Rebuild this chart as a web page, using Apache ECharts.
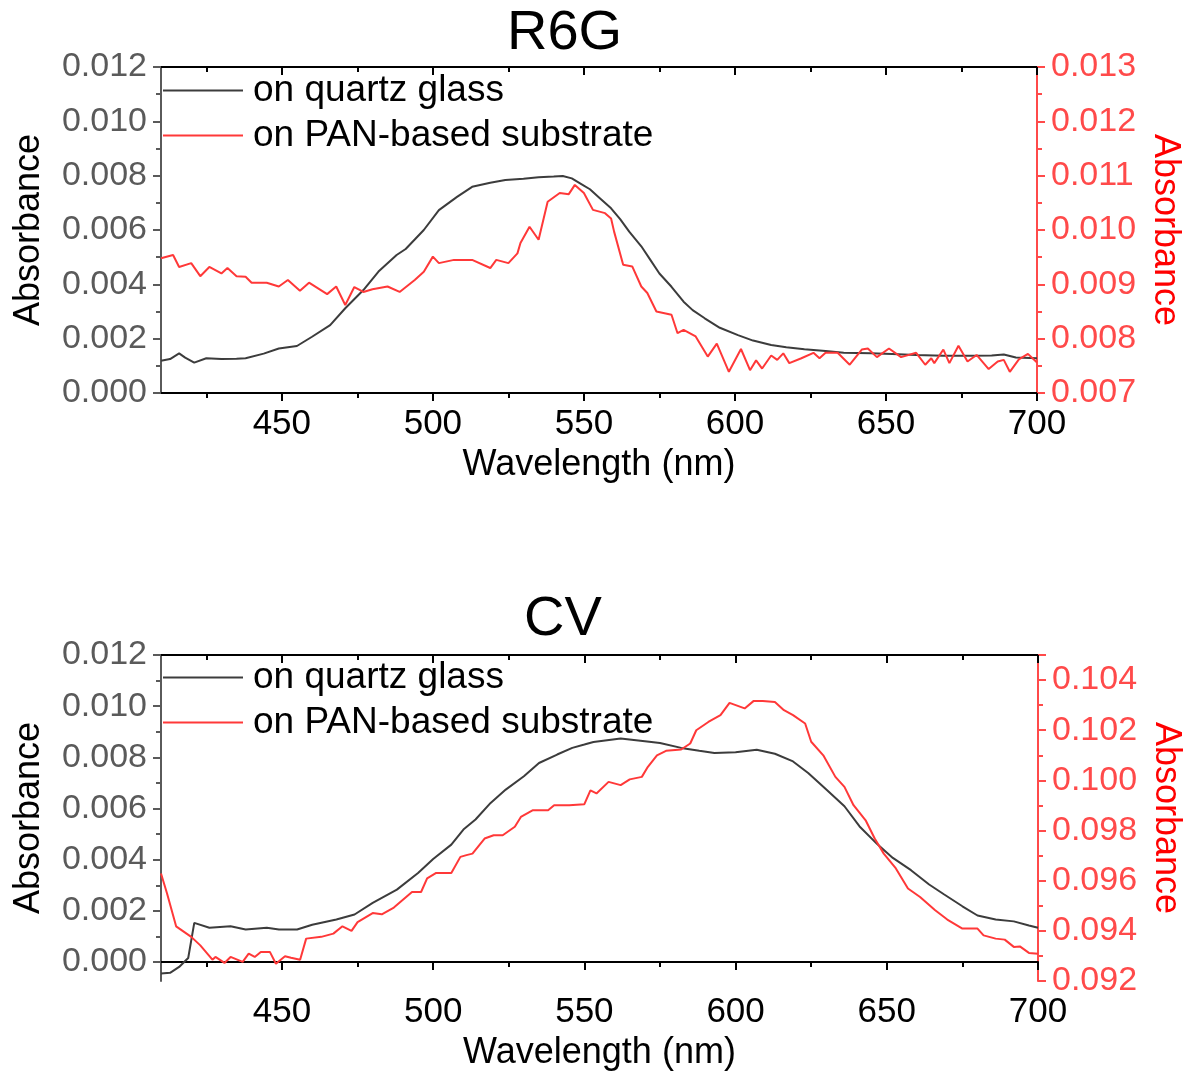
<!DOCTYPE html>
<html>
<head>
<meta charset="utf-8">
<script src="https://cdn.jsdelivr.net/npm/echarts@6/dist/echarts.min.js"></script>
<style>
  html, body { margin: 0; padding: 0; background: #fff; }
  #main { width: 1183px; height: 1072px; }
</style>
</head>
<body>
<div id="main"></div>
<script>
// tick positions
var xMajorTicks = [450, 500, 550, 600, 650, 700];
var xMinorTicks = [425, 475, 525, 575, 625, 675];
var yLeftMajor = [0, 0.002, 0.004, 0.006, 0.008, 0.010, 0.012];
var yLeftMinor = [0.001, 0.003, 0.005, 0.007, 0.009, 0.011];

// R6G, on quartz glass (left axis)
var r6gQuartzX = [410, 413, 416, 418, 421, 425, 430, 435, 438, 444, 449, 455, 460, 466, 471, 477, 482, 488, 491, 494, 497, 502, 508, 513, 519, 524, 530, 535, 540, 543, 546, 549, 552, 555, 559, 562, 565, 569, 572, 575, 579, 583, 586, 590, 595, 601, 606, 612, 617, 623, 630, 636, 645, 652, 660, 669, 678, 685, 689, 693, 700];
var r6gQuartzY = [0.00119, 0.00125, 0.00146, 0.00130, 0.00112, 0.00128, 0.00125, 0.00126, 0.00128, 0.00145, 0.00164, 0.00173, 0.00207, 0.00250, 0.00312, 0.00379, 0.00447, 0.00508, 0.00530, 0.00565, 0.00600, 0.00673, 0.00722, 0.00759, 0.00774, 0.00784, 0.00789, 0.00794, 0.00797, 0.00799, 0.00790, 0.00770, 0.00750, 0.00720, 0.00680, 0.00640, 0.00594, 0.00540, 0.00490, 0.00440, 0.00391, 0.00336, 0.00305, 0.00275, 0.00240, 0.00213, 0.00193, 0.00177, 0.00168, 0.00161, 0.00155, 0.00148, 0.00146, 0.00144, 0.00140, 0.00137, 0.00137, 0.00138, 0.00142, 0.00131, 0.00128];

// R6G, on PAN-based substrate (right axis)
var r6gPanX = [410, 414, 416, 420, 423, 426, 430, 432, 435, 438, 440, 445, 449, 452, 456, 459, 465, 468, 471, 474, 477, 480, 485, 489, 494, 497, 500, 502, 507, 513, 519, 521, 525, 528, 529, 532, 535, 538, 542, 545, 547, 550, 553, 557, 559, 560, 563, 566, 569, 571, 574, 579, 581, 583, 587, 591, 594, 598, 602, 605, 607, 609, 612, 614, 616, 618, 622, 626, 628, 630, 634, 638, 642, 644, 647, 651, 655, 660, 663, 665, 666, 669, 671, 674, 677, 680, 684, 687, 689, 691, 694, 697, 700];
var r6gPanY = [0.00948, 0.00954, 0.00932, 0.00939, 0.00915, 0.00932, 0.00920, 0.00930, 0.00915, 0.00914, 0.00903, 0.00903, 0.00896, 0.00908, 0.00888, 0.00903, 0.00882, 0.00896, 0.00862, 0.00895, 0.00886, 0.00891, 0.00896, 0.00886, 0.00908, 0.00923, 0.00951, 0.00939, 0.00945, 0.00945, 0.00930, 0.00945, 0.00939, 0.00957, 0.00976, 0.01006, 0.00982, 0.01052, 0.01068, 0.01066, 0.01083, 0.01068, 0.01037, 0.01031, 0.01021, 0.00997, 0.00936, 0.00933, 0.00896, 0.00884, 0.00850, 0.00844, 0.00810, 0.00816, 0.00804, 0.00767, 0.00791, 0.00739, 0.00781, 0.00742, 0.00760, 0.00745, 0.00769, 0.00761, 0.00773, 0.00755, 0.00764, 0.00774, 0.00764, 0.00774, 0.00774, 0.00752, 0.00780, 0.00782, 0.00766, 0.00782, 0.00766, 0.00774, 0.00752, 0.00764, 0.00755, 0.00780, 0.00755, 0.00787, 0.00758, 0.00770, 0.00744, 0.00758, 0.00761, 0.00739, 0.00762, 0.00772, 0.00756];

// CV, on quartz glass (left axis)
var cvQuartzX = [410, 413, 416, 419, 421, 426, 433, 438, 445, 449, 455, 460, 468, 474, 480, 488, 495, 500, 506, 510, 514, 519, 524, 530, 535, 541, 546, 550, 553, 562, 570, 575, 582, 588, 593, 600, 607, 613, 619, 624, 630, 636, 641, 647, 652, 658, 664, 669, 675, 680, 686, 692, 697, 700];
var cvQuartzY = [-0.00045, -0.00042, -0.00019, 0.00016, 0.00153, 0.00134, 0.00140, 0.00127, 0.00134, 0.00127, 0.00127, 0.00146, 0.00166, 0.00186, 0.00231, 0.00283, 0.00348, 0.00403, 0.00459, 0.00518, 0.00557, 0.00622, 0.00674, 0.00726, 0.00778, 0.00811, 0.00837, 0.00850, 0.00860, 0.00874, 0.00863, 0.00856, 0.00837, 0.00826, 0.00817, 0.00820, 0.00830, 0.00814, 0.00784, 0.00739, 0.00674, 0.00609, 0.00530, 0.00459, 0.00407, 0.00359, 0.00303, 0.00264, 0.00218, 0.00182, 0.00166, 0.00159, 0.00143, 0.00134];

// CV, on PAN-based substrate (right axis)
var cvPanX = [410, 412, 415, 420, 423, 427, 428, 431, 433, 437, 439, 441, 443, 446, 448, 451, 453, 456, 458, 463, 467, 470, 473, 475, 480, 483, 487, 493, 496, 498, 501, 506, 509, 511, 513, 517, 520, 523, 527, 529, 533, 538, 540, 545, 550, 552, 554, 558, 562, 565, 569, 571, 574, 577, 582, 585, 587, 591, 595, 598, 603, 606, 609, 613, 616, 619, 623, 625, 629, 633, 636, 639, 643, 646, 649, 653, 657, 661, 666, 670, 675, 680, 682, 686, 689, 692, 694, 697, 700];
var cvPanY = [0.09629, 0.09549, 0.09418, 0.09376, 0.09342, 0.09285, 0.09296, 0.09272, 0.09296, 0.09276, 0.09309, 0.09296, 0.09316, 0.09316, 0.09269, 0.09299, 0.09293, 0.09285, 0.09369, 0.09376, 0.09389, 0.09418, 0.09400, 0.09435, 0.09471, 0.09466, 0.09493, 0.09555, 0.09555, 0.09609, 0.09631, 0.09631, 0.09695, 0.09702, 0.09708, 0.09768, 0.09781, 0.09781, 0.09815, 0.09854, 0.09881, 0.09881, 0.09901, 0.09901, 0.09905, 0.09960, 0.09948, 0.09994, 0.09981, 0.10004, 0.10014, 0.10054, 0.10100, 0.10118, 0.10123, 0.10147, 0.10200, 0.10233, 0.10260, 0.10309, 0.10287, 0.10317, 0.10317, 0.10313, 0.10280, 0.10260, 0.10227, 0.10154, 0.10100, 0.10014, 0.09974, 0.09901, 0.09841, 0.09768, 0.09708, 0.09649, 0.09569, 0.09535, 0.09482, 0.09445, 0.09409, 0.09409, 0.09382, 0.09369, 0.09365, 0.09336, 0.09338, 0.09312, 0.09309];

function pairs(xs, ys) {
  return xs.map(function (x, i) { return [x, ys[i]]; });
}

var FONT = 'Liberation Sans, Arial, sans-serif';
var BLACK = '#3c3c3c';
var RED = '#ff3838';
var AXRED = '#ff4a4a';
var GRAY = '#5a5a5a';

var grids = [
  { left: 161, top: 67, width: 876, height: 326, outerBoundsMode: 'none' },
  { left: 161, top: 655, width: 877, height: 326, outerBoundsMode: 'none' }
];

function makeX(g) {
  var base = { gridIndex: g, type: 'value', min: 410, max: 700, splitLine: { show: false } };
  return [
    Object.assign({}, base, {
      position: 'bottom',
      name: 'Wavelength (nm)', nameLocation: 'middle', nameGap: 54,
      nameTextStyle: { fontSize: 36, color: '#000', fontFamily: FONT },
      axisLine: { lineStyle: { color: '#000', width: 2 } },
      axisTick: { customValues: xMajorTicks, length: 8, lineStyle: { color: '#000', width: 2 } },
      axisLabel: { customValues: xMajorTicks, fontSize: 35, color: '#000', fontFamily: FONT, margin: 14 }
    }),
    Object.assign({}, base, {
      position: 'bottom',
      axisLine: { show: false },
      axisTick: { customValues: xMinorTicks, length: 5, lineStyle: { color: '#000', width: 2 } },
      axisLabel: { show: false }
    }),
    Object.assign({}, base, {
      position: 'top',
      axisLine: { lineStyle: { color: '#000', width: 2 } },
      axisTick: { customValues: xMajorTicks, inside: true, length: 8, lineStyle: { color: '#000', width: 2 } },
      axisLabel: { show: false }
    }),
    Object.assign({}, base, {
      position: 'top',
      axisLine: { show: false },
      axisTick: { customValues: xMinorTicks, inside: true, length: 5, lineStyle: { color: '#000', width: 2 } },
      axisLabel: { show: false }
    })
  ];
}

function makeY(g, leftMin, rMin, rMax, rInterval, showRightMax) {
  return [
    {
      gridIndex: g, type: 'value', position: 'left', min: leftMin, max: 0.012,
      splitLine: { show: false },
      name: 'Absorbance', nameLocation: 'middle', nameGap: 114, nameRotate: 90,
      nameTextStyle: { fontSize: 36, color: '#000', fontFamily: FONT },
      axisLine: { show: true, lineStyle: { color: GRAY, width: 2 } },
      axisTick: { show: true, customValues: yLeftMajor, length: 8, lineStyle: { color: GRAY, width: 2 } },
      axisLabel: {
        customValues: yLeftMajor, fontSize: 34, color: GRAY, fontFamily: FONT, margin: 14,
        formatter: function (v) { return Math.abs(v) < 1e-9 ? '0.000' : v.toFixed(3); }
      }
    },
    {
      gridIndex: g, type: 'value', position: 'left', min: leftMin, max: 0.012,
      splitLine: { show: false },
      axisLine: { show: false },
      axisTick: { show: true, customValues: yLeftMinor, length: 5, lineStyle: { color: GRAY, width: 2 } },
      axisLabel: { show: false }
    },
    {
      gridIndex: g, type: 'value', position: 'right', min: rMin, max: rMax, interval: rInterval,
      splitLine: { show: false },
      name: 'Absorbance', nameLocation: 'middle', nameGap: 108, nameRotate: -90,
      nameTextStyle: { fontSize: 36, color: '#ff0000', fontFamily: FONT },
      axisLine: { show: true, lineStyle: { color: AXRED, width: 2 } },
      axisTick: { show: true, length: 8, lineStyle: { color: AXRED, width: 2 } },
      minorTick: { show: true, splitNumber: 2, length: 5, lineStyle: { color: AXRED, width: 2 } },
      axisLabel: {
        fontSize: 34, color: AXRED, fontFamily: FONT, margin: 14, showMaxLabel: showRightMax,
        formatter: function (v) { return v.toFixed(3); }
      }
    }
  ];
}

function makeLegend(top) {
  return {
    orient: 'vertical', left: 163, top: top, padding: 0,
    icon: 'rect', itemWidth: 80, itemHeight: 2, itemGap: 8,
    textStyle: { fontSize: 37, color: '#000', fontFamily: FONT, padding: [0, 0, 0, 5] },
    data: ['on quartz glass', 'on PAN-based substrate']
  };
}

function line(name, data, xi, yi, color) {
  return {
    name: name, type: 'line', xAxisIndex: xi, yAxisIndex: yi,
    data: data, symbol: 'none', showSymbol: false,
    lineStyle: { color: color, width: 2 }, itemStyle: { color: color }
  };
}

var myChart = echarts.init(document.getElementById('main'));

var option = {
  animation: false,
  backgroundColor: '#fff',
  title: [
    { text: 'R6G', left: 507, top: 6, padding: 0, textStyle: { fontSize: 56, fontWeight: 'normal', color: '#000', fontFamily: FONT } },
    { text: 'CV', left: 524, top: 592, padding: 0, textStyle: { fontSize: 56, fontWeight: 'normal', color: '#000', fontFamily: FONT } }
  ],
  legend: [makeLegend(72), makeLegend(659)],
  grid: grids,
  xAxis: makeX(0).concat(makeX(1)),
  yAxis: makeY(0, 0, 0.007, 0.013, 0.001, true).concat(makeY(1, -0.00074, 0.092, 0.105, 0.002, false)),
  series: [
    line('on quartz glass', pairs(r6gQuartzX, r6gQuartzY), 0, 0, BLACK),
    line('on PAN-based substrate', pairs(r6gPanX, r6gPanY), 0, 2, RED),
    line('on quartz glass', pairs(cvQuartzX, cvQuartzY), 4, 3, BLACK),
    line('on PAN-based substrate', pairs(cvPanX, cvPanY), 4, 5, RED)
  ]
};

myChart.setOption(option);
</script>
</body>
</html>
